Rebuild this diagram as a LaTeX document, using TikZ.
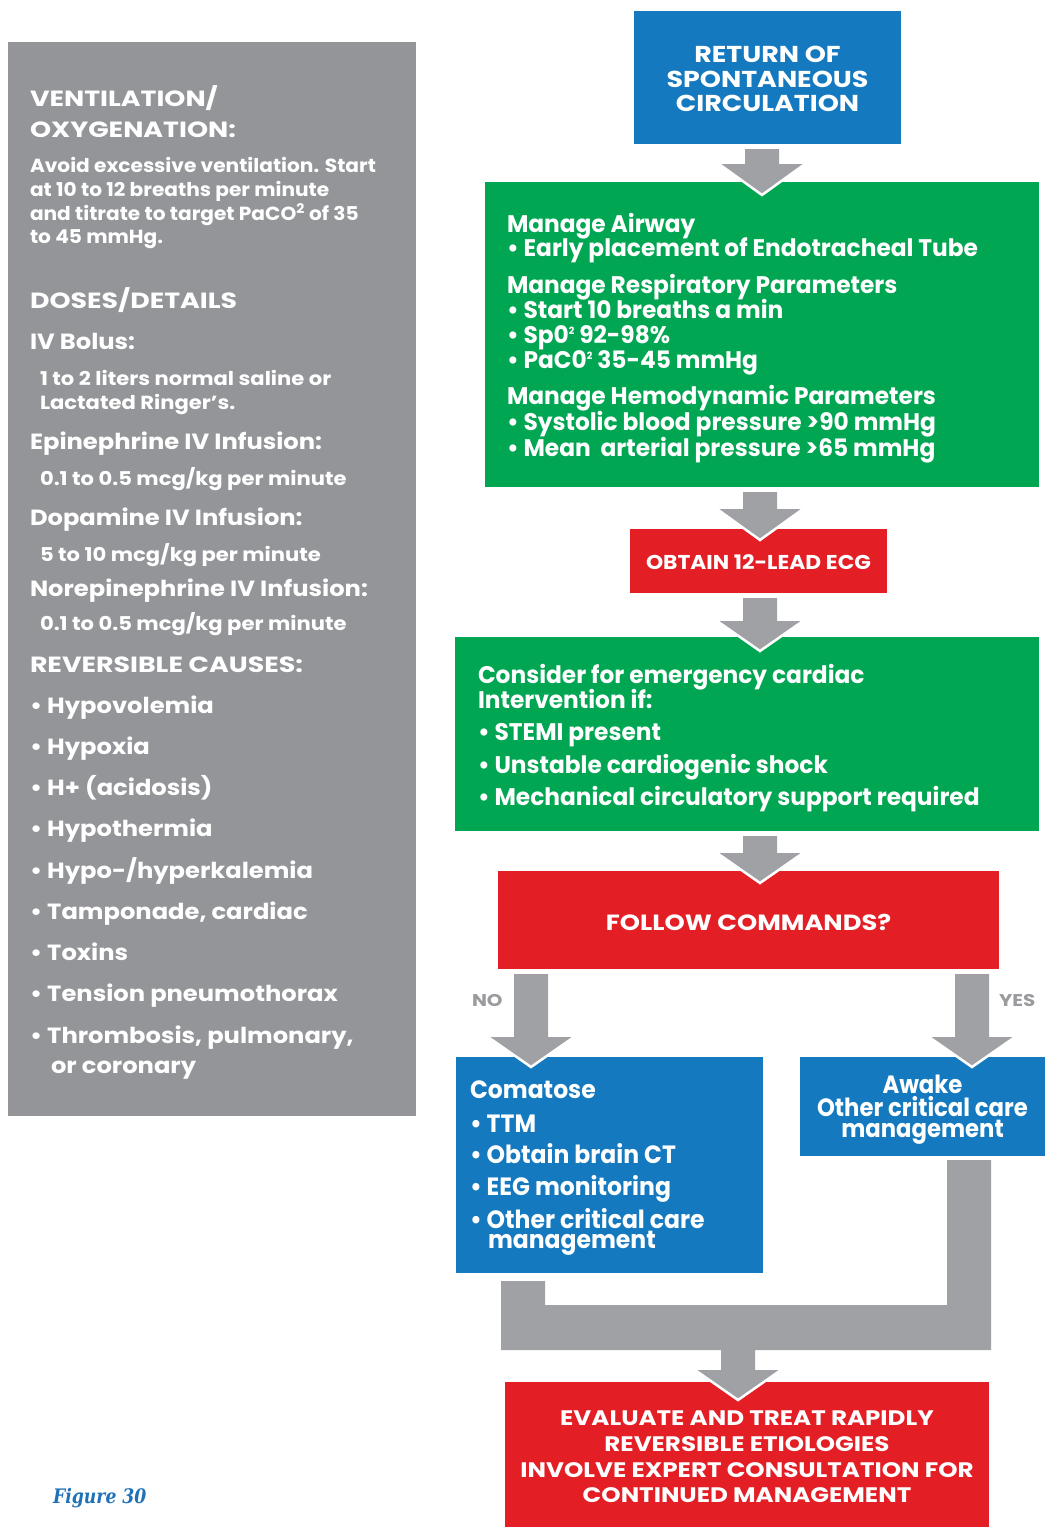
\documentclass[tikz,border=0pt]{standalone}
\usepackage{fontspec}
\setmainfont{Poppins}
% width-adjusted faces of the same family
\newfontfamily\lcapsface{Poppins}[FakeStretch=1.22]
\newfontfamily\capsface{Poppins}[FakeStretch=1.17]
\newfontfamily\ecgface{Poppins}[FakeStretch=1.09]
\newfontfamily\leftface{Poppins}[FakeStretch=1.10]
\newfontfamily\bodyface{Poppins}[FakeStretch=1.06]
\newfontfamily\subface{Poppins}[FakeStretch=1.11]
\newfontfamily\greenface{Poppins}[FakeStretch=0.97]
\newfontfamily\comaface{Poppins}[FakeStretch=0.94]
\newfontfamily\awakeface{Poppins}[FakeStretch=0.91]
\newfontfamily\captionserif{DejaVu Serif}[FakeStretch=0.86]
\usetikzlibrary{calc}

\definecolor{panelgray}{HTML}{939598}
\definecolor{arrowgray}{HTML}{A0A1A5}
\definecolor{labelgray}{HTML}{9A9B9E}
\definecolor{boxblue}{HTML}{1479BF}
\definecolor{boxgreen}{HTML}{00A651}
\definecolor{boxred}{HTML}{E31E25}
\definecolor{figblue}{HTML}{1F72B8}

% one line of text placed on its baseline
\newcommand\tline[5]{\node[#4] (#1) at (#2,#3) {#5};}
% small raised "2"
\newcommand\tinytwo{\raisebox{0.62ex}{\fontsize{10}{10}\selectfont 2}}

% grey block arrow: #1 axis x, #2 source node, #3 target node,
% #4 head start above the target top, #5 depth of the tip into the target
\newcommand\blockarrow[5]{%
  \path[fill=arrowgray] let \p1=(#2.south), \p2=(#3.north) in
    ({#1pt-17pt},{\y1-5pt}) -- ({#1pt+17pt},{\y1-5pt}) --
    ({#1pt+17pt},{\y2+#4pt}) -- ({#1pt+43pt},{\y2+#4pt}) --
    ({#1pt},{\y2-#5pt}) -- ({#1pt-43pt},{\y2+#4pt}) --
    ({#1pt-17pt},{\y2+#4pt}) -- cycle;
  \path[draw=white,line width=2.5pt] let \p2=(#3.north) in
    ({#1pt+43pt},{\y2+#4pt}) -- ({#1pt},{\y2-#5pt}) -- ({#1pt-43pt},{\y2+#4pt});
}

\begin{document}
\begin{tikzpicture}[x=1pt,y=-1pt,
  box/.style={draw=none,inner sep=0pt,outer sep=0pt},
  txt/.style={inner sep=0pt,outer sep=0pt,text=white,anchor=base west},
  ctxt/.style={inner sep=0pt,outer sep=0pt,text=white,anchor=base},
  lhdr/.style={txt,font=\lcapsface\fontsize{22}{22}\selectfont\bfseries},
  hdr/.style={txt,font=\leftface\fontsize{22}{22}\selectfont\bfseries},
  body/.style={txt,font=\bodyface\fontsize{19}{19}\selectfont\bfseries},
  sub/.style={txt,font=\subface\fontsize{19}{19}\selectfont\bfseries},
  gtxt/.style={txt,font=\greenface\fontsize{24}{24}\selectfont\bfseries},
  btxt/.style={txt,font=\comaface\fontsize{25}{25}\selectfont\bfseries},
  atxt/.style={ctxt,font=\awakeface\fontsize{25}{25}\selectfont\bfseries},
  ctitle/.style={ctxt,font=\capsface\fontsize{#1}{#1}\selectfont\bfseries},
  yn/.style={inner sep=0pt,outer sep=0pt,text=labelgray,anchor=base west,font=\capsface\fontsize{17}{17}\selectfont\bfseries}]

\useasboundingbox (0,0) rectangle (1047,1537);
\path[fill=white] (0,0) rectangle (1047,1537);

% ---------- boxes ----------
\node[box,fill=panelgray,minimum width=408,minimum height=1074] (panel) at (212,579) {};
\node[box,fill=boxblue,minimum width=267,minimum height=133] (rosc) at (767.5,77.5) {};
\node[box,fill=boxgreen,minimum width=554,minimum height=305] (care) at (762,334.5) {};
\node[box,fill=boxred,minimum width=257,minimum height=64] (ecg) at (758.5,561) {};
\node[box,fill=boxgreen,minimum width=584,minimum height=194] (cath) at (747,734) {};
\node[box,fill=boxred,minimum width=501,minimum height=98] (follow) at (748.5,920) {};
\node[box,fill=boxblue,minimum width=307,minimum height=216] (coma) at (609.5,1165) {};
\node[box,fill=boxblue,minimum width=245,minimum height=99] (awake) at (922.5,1106.5) {};
\node[box,fill=boxred,minimum width=484,minimum height=145] (final) at (747,1454.5) {};

% ---------- connectors ----------
\blockarrow{762}{rosc}{care}{18}{13}
\blockarrow{760}{care}{ecg}{20}{11}
\blockarrow{760}{ecg}{cath}{16}{14}
\blockarrow{760}{cath}{follow}{18}{12}
\blockarrow{531}{follow}{coma}{20}{10}
\blockarrow{972}{follow}{awake}{20}{10}

% merging connector from both outcomes to the final box
\path[fill=arrowgray] let \p1=(coma.south), \p2=(awake.south), \p3=(final.north) in
  (501pt,{\y1-8pt}) -- (545pt,{\y1-8pt}) -- (545pt,-1305pt) -- (947pt,-1305pt) --
  (947pt,{\y2-4pt}) -- (991pt,{\y2-4pt}) -- (991pt,-1350pt) -- (755pt,-1350pt) --
  (755pt,{\y3+12pt}) -- (781pt,{\y3+12pt}) -- (738pt,{\y3-18pt}) --
  (695pt,{\y3+12pt}) -- (721pt,{\y3+12pt}) -- (721pt,-1350pt) -- (501pt,-1350pt) -- cycle;
\path[draw=white,line width=2.5pt] let \p3=(final.north) in
  (781pt,{\y3+12pt}) -- (738pt,{\y3-18pt}) -- (695pt,{\y3+12pt});

% ---------- left panel ----------
\tline{v1}{30}{106}{lhdr}{VENTILATION/}
\tline{v2}{30}{137}{lhdr}{OXYGENATION:}
\tline{v3}{30}{172}{body}{Avoid excessive ventilation. Start}
\tline{v4}{30}{196}{body}{at 10 to 12 breaths per minute}
\tline{v5}{30}{220}{body}{and titrate to target PaCO\textsuperscript{2} of 35}
\tline{v6}{30}{243}{body}{to 45 mmHg.}
\tline{d1}{30}{308}{lhdr}{DOSES/DETAILS}
\tline{d2}{30}{349}{hdr}{IV Bolus:}
\tline{d3}{40}{385}{sub}{1 to 2 liters normal saline or}
\tline{d4}{40}{409}{sub}{Lactated Ringer’s.}
\tline{d5}{30}{449}{hdr}{Epinephrine IV Infusion:}
\tline{d6}{40}{485}{sub}{0.1 to 0.5 mcg/kg per minute}
\tline{d7}{30}{525}{hdr}{Dopamine IV Infusion:}
\tline{d8}{40}{561}{sub}{5 to 10 mcg/kg per minute}
\tline{d9}{30}{596}{hdr}{Norepinephrine IV Infusion:}
\tline{d10}{40}{630}{sub}{0.1 to 0.5 mcg/kg per minute}
\tline{r0}{30}{672}{lhdr}{REVERSIBLE CAUSES:}
\tline{r1}{30}{713}{hdr}{• Hypovolemia}
\tline{r2}{30}{754}{hdr}{• Hypoxia}
\tline{r3}{30}{795}{hdr}{• H+ (acidosis)}
\tline{r4}{30}{836}{hdr}{• Hypothermia}
\tline{r5}{30}{878}{hdr}{• Hypo-/hyperkalemia}
\tline{r6}{30}{919}{hdr}{• Tamponade, cardiac}
\tline{r7}{30}{960}{hdr}{• Toxins}
\tline{r8}{30}{1001}{hdr}{• Tension pneumothorax}
\tline{r9}{30}{1043}{hdr}{• Thrombosis, pulmonary,}
\tline{r10}{51}{1073}{hdr}{or coronary}

% ---------- flow text ----------
\tline{t1}{767.5}{62}{ctitle=23}{RETURN OF}
\tline{t2}{767.5}{87}{ctitle=23}{SPONTANEOUS}
\tline{t3}{767.5}{111}{ctitle=23}{CIRCULATION}

\tline{c1}{507}{232}{gtxt}{Manage Airway}
\tline{c2}{507}{256}{gtxt}{• Early placement of Endotracheal Tube}
\tline{c3}{507}{293}{gtxt}{Manage Respiratory Parameters}
\tline{c4}{507}{318}{gtxt}{• Start 10 breaths a min}
\tline{c5}{507}{343}{gtxt}{• Sp0\tinytwo\ 92-98\%}
\tline{c6}{507}{368}{gtxt}{• PaC0\tinytwo\ 35-45 mmHg}
\tline{c7}{507}{404}{gtxt}{Manage Hemodynamic Parameters}
\tline{c8}{507}{430}{gtxt}{• Systolic blood pressure >90 mmHg}
\tline{c9}{507}{456}{gtxt}{• Mean\ \ arterial pressure >65 mmHg}

\tline{e1}{758.5}{569}{ctxt,font=\ecgface\fontsize{20}{20}\selectfont\bfseries}{OBTAIN 12-LEAD ECG}

\tline{k1}{478}{683}{gtxt}{Consider for emergency cardiac}
\tline{k2}{478}{708}{gtxt}{Intervention if:}
\tline{k3}{478}{740}{gtxt}{• STEMI present}
\tline{k4}{478}{773}{gtxt}{• Unstable cardiogenic shock}
\tline{k5}{478}{805}{gtxt}{• Mechanical circulatory support required}

\tline{f1}{748.5}{930}{ctitle=22}{FOLLOW COMMANDS?}

\tline{no}{472}{1006}{yn}{NO}
\tline{yes}{999}{1006}{yn}{YES}

\tline{m1}{470}{1098}{btxt}{Comatose}
\tline{m2}{470}{1132}{btxt}{• TTM}
\tline{m3}{470}{1163}{btxt}{• Obtain brain CT}
\tline{m4}{470}{1195}{btxt}{• EEG monitoring}
\tline{m5}{470}{1228}{btxt}{• Other critical care}
\tline{m6}{488}{1248}{btxt}{management}

\tline{a1}{922.5}{1093}{atxt}{Awake}
\tline{a2}{922.5}{1116}{atxt}{Other critical care}
\tline{a3}{922.5}{1137}{atxt}{management}

\tline{z1}{747}{1425}{ctitle=21}{EVALUATE AND TREAT RAPIDLY}
\tline{z2}{747}{1451}{ctitle=21}{REVERSIBLE ETIOLOGIES}
\tline{z3}{747}{1477}{ctitle=21}{INVOLVE EXPERT CONSULTATION FOR}
\tline{z4}{747}{1502}{ctitle=21}{CONTINUED MANAGEMENT}

\tline{fig}{53}{1503}{inner sep=0pt,anchor=base west,text=figblue,font=\captionserif\fontsize{20}{20}\selectfont\bfseries\itshape}{Figure 30}
\end{tikzpicture}
\end{document}
